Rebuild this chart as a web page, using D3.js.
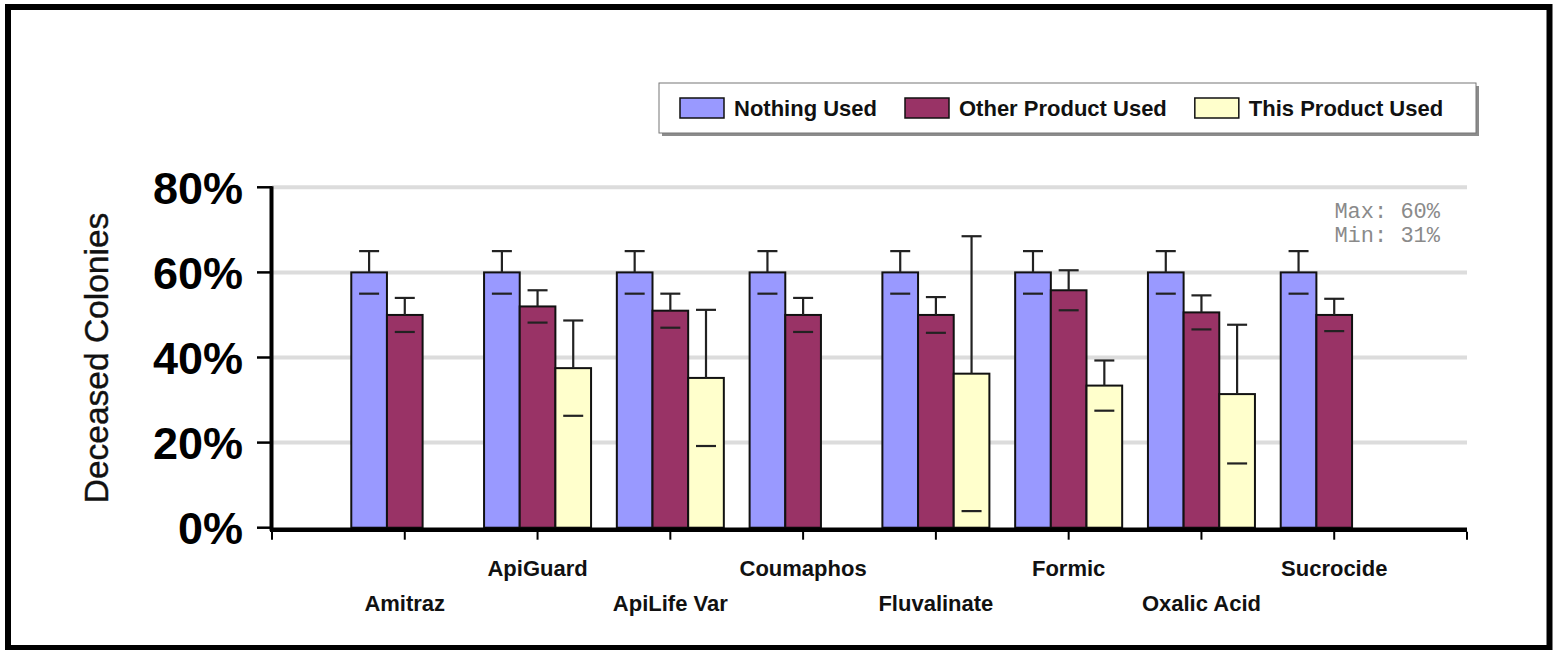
<!DOCTYPE html>
<html>
<head>
<meta charset="utf-8">
<script src="https://cdn.jsdelivr.net/npm/d3@7/dist/d3.min.js"></script>
<style>
  html, body { margin: 0; padding: 0; background: #fff; }
  svg { display: block; }
</style>
</head>
<body>
<svg id="chart" width="1556" height="650"></svg>
<script>
// ---- data ----
const categories = ["Amitraz", "ApiGuard", "ApiLife Var", "Coumaphos", "Fluvalinate", "Formic", "Oxalic Acid", "Sucrocide"];
const seriesNames = ["Nothing Used", "Other Product Used", "This Product Used"];
const nothingUsed = [60, 60, 60, 60, 60, 60, 60, 60];
const nothingErr = [5, 5, 5, 5, 5, 5, 5, 5];
const otherUsed = [50, 52, 51, 50, 50, 55.8, 50.6, 50];
const otherErr = [4, 3.8, 4, 4, 4.2, 4.7, 4, 3.8];
const thisUsed = [null, 37.5, 35.2, null, 36.2, 33.4, 31.4, null];
const thisErr = [null, 11.2, 16, null, 32.3, 5.9, 16.3, null];
const yTicks = [0, 20, 40, 60, 80];
const statLines = ["Max: 60%", "Min: 31%"];
const yTitle = "Deceased Colonies";

const colors = ["#9999FF", "#993366", "#FFFFCC"];
const seriesValues = [nothingUsed, otherUsed, thisUsed];
const seriesErrors = [nothingErr, otherErr, thisErr];

const svg = d3.select("#chart");

// frame
svg.append("rect").attr("x", 8).attr("y", 7).attr("width", 1541.5).attr("height", 641)
  .attr("fill", "#fff").attr("stroke", "#000").attr("stroke-width", 6);

const left = 272, right = 1467, y0 = 527.7, yTop = 187.3;
const x = d3.scalePoint().domain(categories).range([left, right]).padding(1);
const y = d3.scaleLinear().domain([0, 80]).range([y0, yTop]);
const xs = d3.scaleBand().domain(seriesNames).range([-53.5, 53.5]);

// gridlines
svg.append("g").selectAll("line").data(yTicks.filter(d => d > 0)).join("line")
  .attr("x1", left).attr("x2", right)
  .attr("y1", d => y(d)).attr("y2", d => y(d))
  .attr("stroke", "#dcdcdc").attr("stroke-width", 4);

// bars
const barData = [];
seriesNames.forEach((s, si) => {
  categories.forEach((c, ci) => {
    const v = seriesValues[si][ci];
    if (v != null) barData.push({ s, si, c, v, e: seriesErrors[si][ci] });
  });
});

const bars = svg.append("g");
bars.selectAll("rect").data(barData).join("rect")
  .attr("x", d => x(d.c) + xs(d.s))
  .attr("y", d => y(d.v))
  .attr("width", xs.bandwidth())
  .attr("height", d => y(0) - y(d.v))
  .attr("fill", d => colors[d.si])
  .attr("stroke", "#111").attr("stroke-width", 2);

// error bars
const eg = svg.append("g").attr("stroke", "#222").attr("stroke-width", 2.2);
barData.forEach(d => {
  const cx = x(d.c) + xs(d.s) + xs.bandwidth() / 2;
  eg.append("line").attr("x1", cx).attr("x2", cx).attr("y1", y(d.v)).attr("y2", y(d.v + d.e));
  eg.append("line").attr("x1", cx - 10).attr("x2", cx + 10).attr("y1", y(d.v + d.e)).attr("y2", y(d.v + d.e));
  eg.append("line").attr("x1", cx - 10).attr("x2", cx + 10).attr("y1", y(d.v - d.e)).attr("y2", y(d.v - d.e));
});

// y axis
const yAxis = svg.append("g");
yAxis.append("line").attr("x1", left - 0.5).attr("x2", left - 0.5).attr("y1", yTop - 1).attr("y2", y0 + 3)
  .attr("stroke", "#000").attr("stroke-width", 4);
yAxis.selectAll(".tk").data(yTicks).join("line")
  .attr("x1", left - 15).attr("x2", left).attr("y1", d => y(d)).attr("y2", d => y(d))
  .attr("stroke", "#000").attr("stroke-width", 2.5);
yAxis.selectAll("text").data(yTicks).join("text")
  .attr("x", 243).attr("y", d => y(d)).attr("dy", "0.36em")
  .attr("text-anchor", "end")
  .attr("font-family", "Liberation Sans, Arial, sans-serif")
  .attr("font-weight", "bold").attr("font-size", 45)
  .text(d => d + "%");

// x axis
const xAxis = svg.append("g");
xAxis.append("line").attr("x1", left - 2).attr("x2", right).attr("y1", y0 + 2).attr("y2", y0 + 2)
  .attr("stroke", "#000").attr("stroke-width", 4.5);
const tickXs = [left, ...categories.map(c => x(c)), right];
xAxis.selectAll(".tk").data(tickXs).join("line")
  .attr("x1", d => d).attr("x2", d => d).attr("y1", y0 + 4).attr("y2", y0 + 12)
  .attr("stroke", "#000").attr("stroke-width", 2);
xAxis.selectAll("text").data(categories).join("text")
  .attr("x", d => x(d))
  .attr("y", (d, i) => i % 2 === 0 ? 611 : 576)
  .attr("text-anchor", "middle")
  .attr("font-family", "Liberation Sans, Arial, sans-serif")
  .attr("font-weight", "bold").attr("font-size", 22)
  .attr("fill", "#111")
  .text(d => d);

// y title
svg.append("text")
  .attr("transform", "translate(108,358) rotate(-90)")
  .attr("text-anchor", "middle")
  .attr("font-family", "Liberation Sans, Arial, sans-serif")
  .attr("font-size", 33.5)
  .attr("fill", "#111")
  .attr("stroke", "#111").attr("stroke-width", 0.4)
  .text(yTitle);

// stats text
svg.append("g").selectAll("text").data(statLines).join("text")
  .attr("x", 1440).attr("y", (d, i) => 218 + i * 24)
  .attr("text-anchor", "end")
  .attr("font-family", "Liberation Mono, Courier New, monospace")
  .attr("font-size", 22)
  .attr("fill", "#8a8a8a")
  .attr("xml:space", "preserve")
  .text(d => d);

// legend
const lg = svg.append("g");
lg.append("rect").attr("x", 662).attr("y", 86).attr("width", 817).attr("height", 50).attr("fill", "#8c8c8c");
lg.append("rect").attr("x", 659).attr("y", 83).attr("width", 817).attr("height", 50)
  .attr("fill", "#fff").attr("stroke", "#777").attr("stroke-width", 1);
let lx = 680;
seriesNames.forEach((s, i) => {
  lg.append("rect").attr("x", lx).attr("y", 98).attr("width", 44).attr("height", 20)
    .attr("fill", colors[i]).attr("stroke", "#111").attr("stroke-width", 1.5);
  const t = lg.append("text").attr("x", lx + 54).attr("y", 116)
    .attr("font-family", "Liberation Sans, Arial, sans-serif")
    .attr("font-weight", "bold").attr("font-size", 22)
    .attr("fill", "#111")
    .text(s);
  lx += 54 + t.node().getComputedTextLength() + 28;
});
</script>
</body>
</html>
